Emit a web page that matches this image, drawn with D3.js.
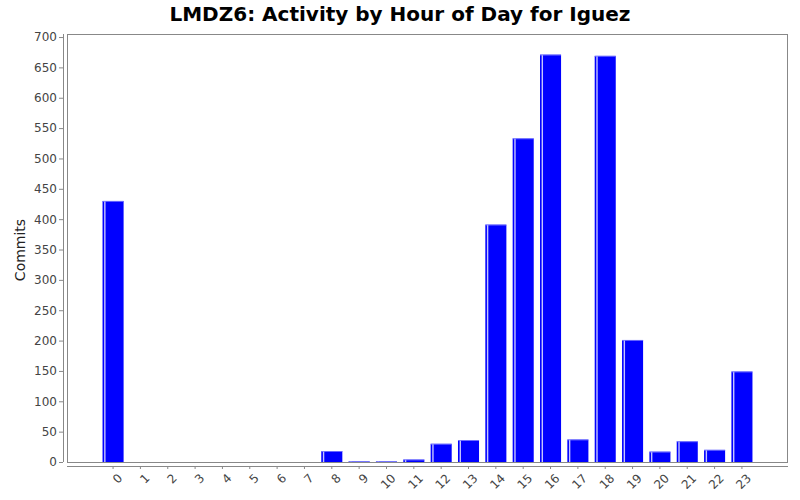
<!DOCTYPE html>
<html><head><meta charset="utf-8">
<script src="https://cdn.jsdelivr.net/npm/d3@7"></script>
<style>body{margin:0;background:#fff}text{font-family:"DejaVu Sans",sans-serif}</style>
</head><body>
<svg id="c" width="800" height="500"></svg>
<script>
const title = "LMDZ6: Activity by Hour of Day for Iguez";
const yLabel = "Commits";
const hours = ["0","1","2","3","4","5","6","7","8","9","10","11","12","13","14","15","16","17","18","19","20","21","22","23"];
const commits = [430,0,0,0,0,0,0,0,18,1,1,4,30,36,391,533,671,37,669,201,17,34,20,149];
const yTicks = [0,50,100,150,200,250,300,350,400,450,500,550,600,650,700];

const svg = d3.select("#c");
const L=67, R=788, T=34, B=462;
const x = d3.scaleBand().domain(hours).range([L,R]).paddingInner(0.23).paddingOuter(1.3);
const y = d3.scaleLinear().domain([0,705]).range([B,T]);

svg.append("text").attr("x",400).attr("y",21).attr("text-anchor","middle")
  .attr("font-size",20).attr("font-weight","bold").attr("fill","#000").text(title);

// plot border
svg.append("rect").attr("x",L+0.5).attr("y",T+0.5).attr("width",R-L-1).attr("height",B-T)
  .attr("fill","none").attr("stroke","#888");

// bars
const g = svg.append("g");
hours.forEach((h,i)=>{
  const v = commits[i]; if(v<=0) return;
  const bx = x(h), bw = x.bandwidth(), by = y(v), bh = B - y(v);
  g.append("rect").attr("x",bx).attr("y",by).attr("width",bw).attr("height",bh).attr("fill","#0000ff");
  g.append("rect").attr("x",bx+1.6).attr("y",by).attr("width",1.4).attr("height",bh).attr("fill","#c4c4ff");
  g.append("rect").attr("x",bx).attr("y",by).attr("width",bw).attr("height",Math.min(0.8,bh)).attr("fill","#8080ff");
});

// y axis
const ya = svg.append("g").attr("transform","translate(63,0)")
  .call(d3.axisLeft(y).tickValues(yTicks).tickSize(4).tickPadding(2));
ya.select(".domain").attr("stroke","#888").attr("d",`M0.5,${T}V${B}`);
ya.selectAll(".tick line").attr("stroke","#888");
ya.selectAll("text").attr("font-size",12).attr("fill","#444").attr("font-family","DejaVu Sans");

// x axis
const xa = svg.append("g").attr("transform","translate(0,466)")
  .call(d3.axisBottom(x).tickSize(3).tickSizeOuter(0));
xa.select(".domain").attr("stroke","#888").attr("d",`M${L},0.5H${R}`);
xa.selectAll(".tick line").attr("stroke","#888");
xa.selectAll(".tick text").attr("font-size",12).attr("fill","#444").attr("font-family","DejaVu Sans")
  .attr("text-anchor","end").attr("dy","0.35em").attr("y",0)
  .attr("transform","translate(7,10) rotate(-45)");

svg.append("text").attr("transform","translate(25,250) rotate(-90)").attr("text-anchor","middle")
  .attr("font-size",14).attr("fill","#222").text(yLabel);
</script></body></html>
